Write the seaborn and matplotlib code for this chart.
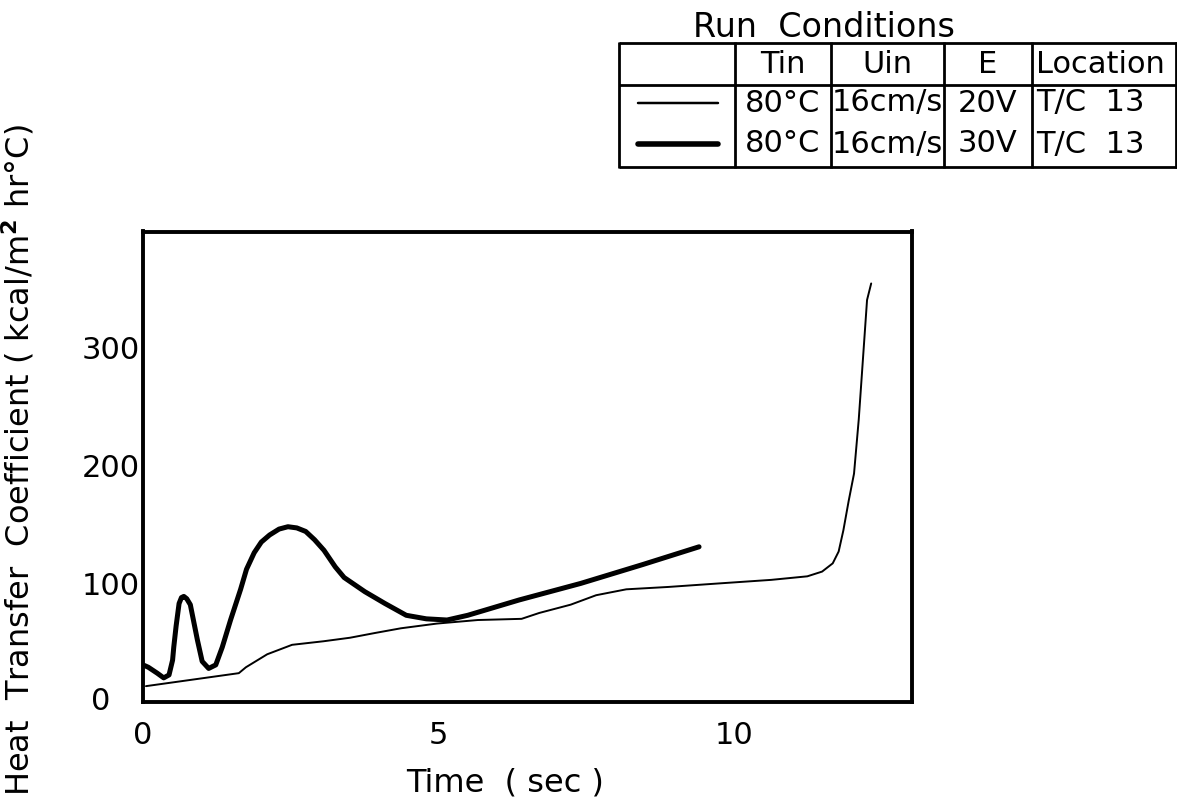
import numpy as np
import pandas as pd
import matplotlib
matplotlib.use("Agg")
import matplotlib.pyplot as plt
import seaborn as sns

# Heat transfer coefficient history at T/C 13, two heater voltages
time_20v = [0.05, 1.62, 1.74, 2.1, 2.52, 3.05, 3.5, 3.92, 4.36, 4.97, 5.66,
            6.4, 6.7, 7.23, 7.66, 8.17, 8.88, 9.74, 10.62, 11.23, 11.48,
            11.66, 11.76, 11.84, 11.93, 12.02, 12.1, 12.24, 12.31]
h_20v = [13, 24, 29, 40, 48, 51, 54, 58, 62, 66, 69,
         70, 75, 82, 90, 95, 97, 100, 103, 106, 110,
         117, 127, 145, 170, 193, 239, 340, 354]

time_30v = [0.0, 0.09, 0.24, 0.35, 0.44, 0.5, 0.52, 0.56, 0.61, 0.65, 0.69,
            0.74, 0.8, 0.92, 1.0, 1.11, 1.23, 1.34, 1.48, 1.65, 1.75,
            1.88, 2.0, 2.14, 2.3, 2.45, 2.6, 2.75, 2.9, 3.06, 3.25,
            3.4, 3.75, 4.09, 4.45, 4.79, 5.14, 5.49, 6.36, 7.4, 8.45, 9.4]
h_30v = [31, 29, 24, 20, 22.5, 35, 46, 64, 83, 88, 89,
         87, 82, 52, 34, 28, 31, 46, 69, 95, 112,
         126, 135, 141, 146, 148, 147, 144, 137, 128, 114,
         105, 93, 83, 73, 70, 69, 73, 86, 100, 116, 131]

x_ticks = [0, 5, 10]
y_ticks = [0, 100, 200, 300]

table_header = ["", "Tin", "Uin", "E", "Location"]
table_rows = [["80°C", "16cm/s", "20V", "T/C  13"],
              ["80°C", "16cm/s", "30V", "T/C  13"]]
line_widths = [1.4, 3.6]

sns.set_theme(style="white")
plt.rcParams["font.family"] = ["DejaVu Sans"]

W, H = 1177, 811
fig = plt.figure(figsize=(W / 100, H / 100), dpi=100)

# main axes (pixel box 143..912 x 231..701)
ax = fig.add_axes([143 / W, 1 - 701.5 / H, (912 - 143) / W, (701.5 - 231.5) / H])

df20 = pd.DataFrame({"t": time_20v, "h": h_20v})
df30 = pd.DataFrame({"t": time_30v, "h": h_30v})
sns.lineplot(data=df20, x="t", y="h", ax=ax, color="black", lw=line_widths[0],
             sort=False, estimator=None)
sns.lineplot(data=df30, x="t", y="h", ax=ax, color="black", lw=line_widths[1],
             sort=False, estimator=None, solid_capstyle="round",
             solid_joinstyle="round")

ax.set_xlim(0, 13)
ax.set_ylim(0, 398)
ax.set_xticks(x_ticks)
ax.set_yticks(y_ticks)
ax.set_xticklabels([str(v) for v in x_ticks], fontsize=22)
# the zero label sits a little apart from the axis; drawn separately below
ax.set_yticklabels(["" if v == 0 else str(v) for v in y_ticks], fontsize=22)
ax.text(-0.055, y_ticks[0], str(y_ticks[0]), transform=ax.get_yaxis_transform(),
        ha="center", va="center", fontsize=22, color="black")
ax.tick_params(axis="both", direction="in", length=8.5, width=2, color="black",
               labelcolor="black")
ax.tick_params(axis="x", pad=14)
ax.tick_params(axis="y", pad=2)
for s in ax.spines.values():
    s.set_visible(True)
    s.set_linewidth(2.8)
    s.set_color("black")

ax.set_xlabel("Time  ( sec )", fontsize=23, color="black")
ax.set_ylabel("Heat  Transfer  Coefficient ( kcal/m$^{\\mathbf{2}}$ hr°C)",
              fontsize=23, color="black")
ax.xaxis.set_label_coords(0.471, -0.14)
ax.yaxis.set_label_coords(-0.138, 0.514)

# run-conditions table, drawn in its own pixel-unit axes
tx0, tx1, ty0, ty1 = 619, 1177, 42, 168
tab = fig.add_axes([tx0 / W, 1 - ty1 / H, (tx1 - tx0) / W, (ty1 - ty0) / H])
tab.set_xlim(tx0, tx1)
tab.set_ylim(ty1, ty0)
tab.axis("off")
col_edges = [619, 735, 831, 944, 1032, 1176]
head_bot = 85
row_mid = [103, 144]
lw_tab = 2.0
tab.hlines([ty0 + 1, ty1 - 1, head_bot], tx0, tx1, color="black", lw=lw_tab,
           clip_on=False)
tab.vlines(col_edges, ty0, ty1, color="black", lw=lw_tab, clip_on=False)

fs_tab = 22
centers = [(a + b) / 2 for a, b in zip(col_edges[:-1], col_edges[1:])]
for j, label in enumerate(table_header):
    if not label:
        continue
    if label == "Location":
        tab.text(col_edges[4] + 4, (ty0 + head_bot) / 2 + 1, label, fontsize=fs_tab,
                 ha="left", va="center", color="black")
    else:
        tab.text(centers[j], (ty0 + head_bot) / 2 + 1, label, fontsize=fs_tab,
                 ha="center", va="center", color="black")
for i, row in enumerate(table_rows):
    y = row_mid[i]
    tab.plot([638, 718], [y, y], color="black", lw=line_widths[i] + 0.4)
    for j, val in enumerate(row):
        if j == 3:
            tab.text(col_edges[4] + 4, y, val, fontsize=fs_tab, ha="left",
                     va="center", color="black")
        else:
            tab.text(centers[j + 1], y, val, fontsize=fs_tab, ha="center",
                     va="center", color="black")

fig.text(693 / W, 1 - 37 / H, "Run  Conditions", fontsize=24, ha="left",
         va="baseline", color="black")

fig.savefig("out.png", dpi=100, facecolor="white")
